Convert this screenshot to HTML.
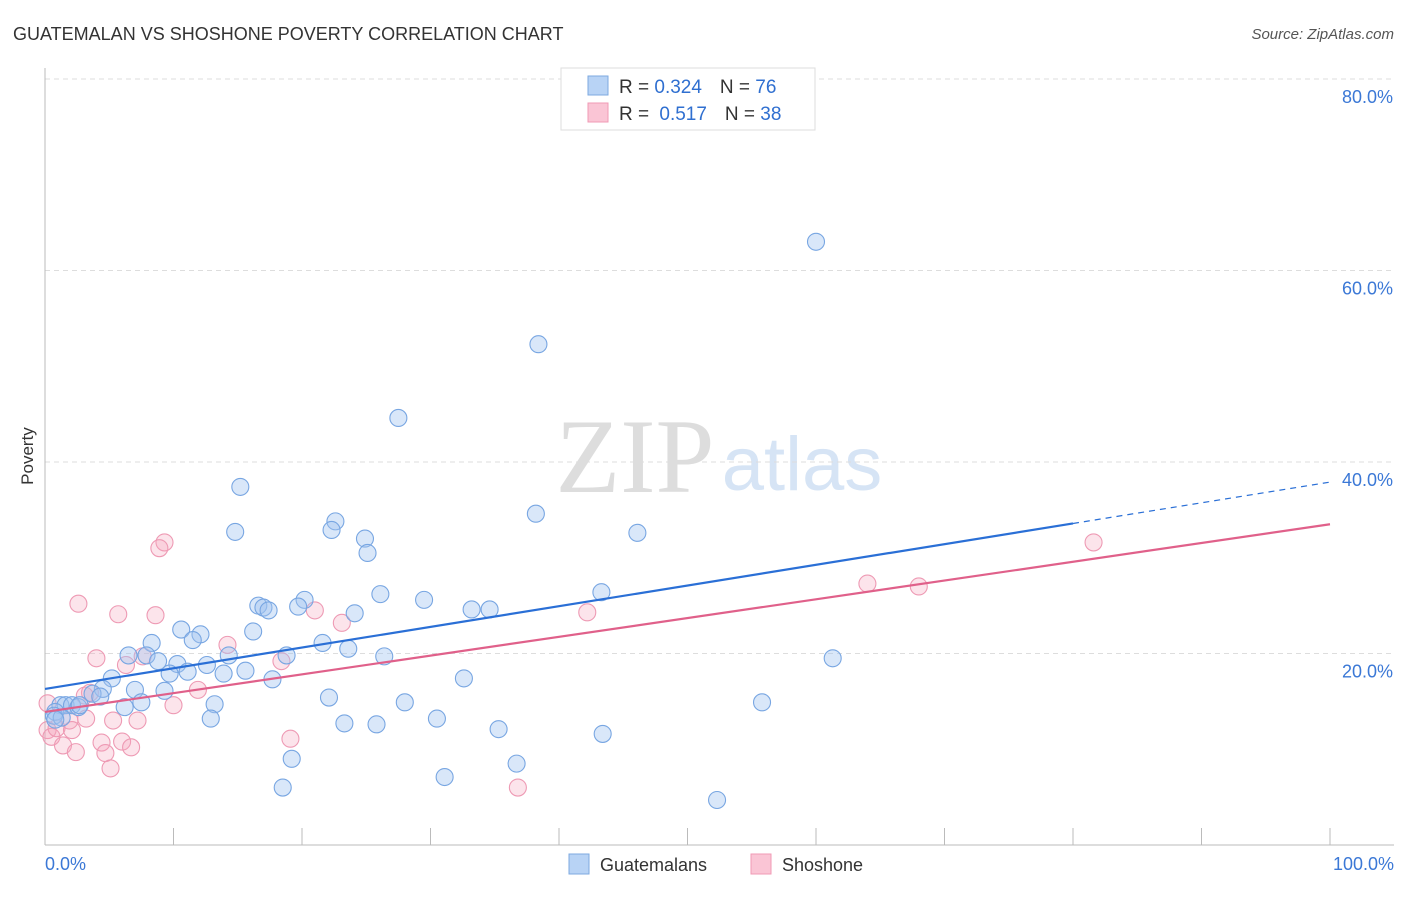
<!DOCTYPE html>
<html><head><meta charset="utf-8"><style>
body{margin:0;background:#fff;font-family:"Liberation Sans",sans-serif}
</style></head><body>
<svg id="c" width="1406" height="892" xmlns="http://www.w3.org/2000/svg" style="font-family:'Liberation Sans',sans-serif">
<text x="13" y="40" font-size="18" fill="#333">GUATEMALAN VS SHOSHONE POVERTY CORRELATION CHART</text>
<text x="1394" y="39" font-size="15" fill="#555" font-style="italic" text-anchor="end">Source: ZipAtlas.com</text>
<text x="635" y="492" font-size="106" fill="#ddd" font-family="Liberation Serif" text-anchor="middle">ZIP</text>
<text x="802" y="490" font-size="76" fill="#d6e4f5" text-anchor="middle">atlas</text>
<text x="33" y="456" font-size="17" fill="#333" text-anchor="middle" transform="rotate(-90 33 456)">Poverty</text>
<g id="grid"></g><g id="axes"></g><g id="pts"></g><g id="lines"></g>
<g>
<rect x="561" y="68" width="254" height="62" fill="#fff" stroke="#ddd"/>
<rect x="588" y="76" width="20" height="19" fill="#b8d3f5" stroke="#7ea9e0"/>
<rect x="588" y="103" width="20" height="19" fill="#fac5d5" stroke="#f09ab5"/>
<text x="619" y="93" font-size="19" fill="#333">R = <tspan fill="#2f6fd0">0.324</tspan><tspan dx="18">N = </tspan><tspan fill="#2f6fd0">76</tspan></text>
<text x="619" y="120" font-size="19" fill="#333">R = <tspan fill="#2f6fd0" dx="5">0.517</tspan><tspan dx="18">N = </tspan><tspan fill="#2f6fd0">38</tspan></text>
</g>
<g>
<rect x="569" y="854" width="20" height="20" fill="#b8d3f5" stroke="#7ea9e0"/>
<text x="600" y="871" font-size="18" fill="#333">Guatemalans</text>
<rect x="751" y="854" width="20" height="20" fill="#fac5d5" stroke="#f09ab5"/>
<text x="782" y="871" font-size="18" fill="#333">Shoshone</text>
</g>
</svg>
<script>
const blueX=[60.0,38.4,27.5,15.2,38.2,14.8,22.6,22.3,24.9,25.1,46.1,43.3,26.1,29.5,20.2,19.7,16.6,17.0,17.4,33.2,34.6,24.1,10.6,12.1,11.5,16.2,8.3,21.6,23.6,6.5,7.9,8.8,14.3,18.8,26.4,10.3,12.6,9.7,11.1,15.6,13.9,61.3,17.7,5.2,32.6,7.0,9.3,4.5,3.7,4.3,22.1,28.0,13.2,6.2,7.5,55.8,1.2,1.6,2.1,2.6,2.7,0.8,0.7,1.3,12.9,30.5,23.3,25.8,35.3,43.4,19.2,36.7,31.1,18.5,52.3,0.8];
const blueY=[63.0,52.3,44.6,37.4,34.6,32.7,33.8,32.9,32.0,30.5,32.6,26.4,26.2,25.6,25.6,24.9,25.0,24.8,24.5,24.6,24.6,24.2,22.5,22.0,21.4,22.3,21.1,21.1,20.5,19.8,19.8,19.2,19.8,19.8,19.7,18.9,18.8,17.9,18.1,18.2,17.9,19.5,17.3,17.4,17.4,16.2,16.1,16.3,15.8,15.5,15.4,14.9,14.7,14.4,14.9,14.9,14.6,14.6,14.6,14.4,14.6,13.9,13.5,13.3,13.2,13.2,12.7,12.6,12.1,11.6,9.0,8.5,7.1,6.0,4.7,13.1];
const pinkX=[2.6,5.7,8.6,9.3,8.9,4.0,6.3,7.6,14.2,21.0,23.1,18.4,11.9,10.0,3.5,3.1,3.2,1.9,5.3,7.2,0.2,0.2,0.5,0.9,2.1,1.4,2.4,4.4,4.7,6.0,6.7,5.1,19.1,36.8,42.2,64.0,68.0,81.6];
const pinkY=[25.2,24.1,24.0,31.6,31.0,19.5,18.8,19.7,20.9,24.5,23.2,19.2,16.2,14.6,15.9,15.6,13.2,13.0,13.0,13.0,14.8,12.0,11.3,12.2,12.0,10.4,9.7,10.7,9.6,10.8,10.2,8.0,11.1,6.0,24.3,27.3,27.0,31.6];
const blueTrend=[16.3,37.9];
const pinkTrend=[13.9,33.5];
const blueSolidEnd=80;
const yTicks=[20,40,60,80];
const xTicks=[0,10,20,30,40,50,60,70,80,90,100];
const NS="http://www.w3.org/2000/svg";
const sx=v=>45+v*12.85, sy=v=>845-v*9.575;
function mk(t,a,p){const e=document.createElementNS(NS,t);for(const k in a)e.setAttribute(k,a[k]);p.appendChild(e);return e;}
const grid=document.getElementById('grid'),axes=document.getElementById('axes'),pts=document.getElementById('pts'),lines=document.getElementById('lines');
yTicks.forEach(v=>{const l=mk('line',{x1:45,x2:1394,y1:sy(v),y2:sy(v),stroke:'#ddd','stroke-dasharray':'5 4'},grid);


const t=mk('text',{x:1393,y:sy(v)+24,'font-size':18,fill:'#3b78d6','text-anchor':'end'},grid);t.textContent=v.toFixed(1)+'%';

});
const ax=mk('line',{x1:45,x2:1394,y1:845,y2:845,stroke:'#bbb'},axes);


const ay=mk('line',{x1:45,x2:45,y1:68,y2:845,stroke:'#bbb'},axes);


xTicks.forEach(v=>{const l=mk('line',{x1:sx(v),x2:sx(v),y1:828,y2:845,stroke:'#bbb'},axes);

});
[[0,'0.0%','start',45],[100,'100.0%','end',1394]].forEach(([v,s,a,x])=>{const t=mk('text',{x:x,y:870,'font-size':18,fill:'#3b78d6','text-anchor':a},axes);t.textContent=s;

});
function dots(X,Y,fill,stroke,name){X.forEach((x,i)=>{const c=mk('circle',{cx:sx(x),cy:sy(Y[i]),r:8.5,fill:fill,stroke:stroke,'stroke-width':1.1},pts);

});}
dots(pinkX,pinkY,'rgba(245,165,190,0.3)','#ee9ab4','shoshone');
dots(blueX,blueY,'rgba(160,196,240,0.4)','#78a6e2','guatemalan');
const by=x=>blueTrend[0]+(blueTrend[1]-blueTrend[0])*x/100;
let l1=mk('line',{x1:sx(0),y1:sy(by(0)),x2:sx(blueSolidEnd),y2:sy(by(blueSolidEnd)),stroke:'#2a6fd6','stroke-width':2.2},lines);


let l2=mk('line',{x1:sx(blueSolidEnd),y1:sy(by(blueSolidEnd)),x2:sx(100),y2:sy(by(100)),stroke:'#2a6fd6','stroke-width':1.2,'stroke-dasharray':'6 5'},lines);


let l3=mk('line',{x1:sx(0),y1:sy(pinkTrend[0]),x2:sx(100),y2:sy(pinkTrend[1]),stroke:'#e0608a','stroke-width':2.2},lines);


</script>
</body></html>
